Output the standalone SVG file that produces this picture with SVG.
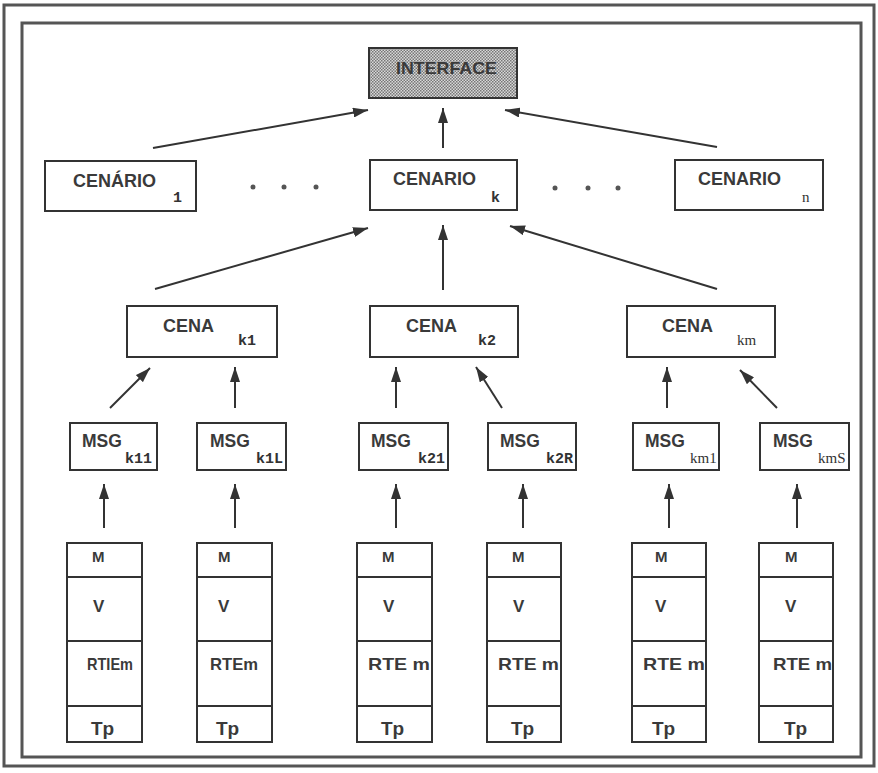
<svg xmlns="http://www.w3.org/2000/svg" width="878" height="773" viewBox="0 0 878 773">
<defs>
<pattern id="stip" width="3" height="3" patternUnits="userSpaceOnUse">
<rect width="3" height="3" fill="#d8d8d8"/>
<rect width="1.5" height="1.5" fill="#777"/>
<rect x="1.5" y="1.5" width="1.5" height="1.5" fill="#777"/>
</pattern>
<marker id="ah" markerUnits="userSpaceOnUse" markerWidth="16" markerHeight="10" refX="15" refY="5" orient="auto">
<path d="M0,0 L15,5 L0,10 z" fill="#333"/>
</marker>
</defs>
<style>
.box{fill:#fff;stroke:#333;stroke-width:2}
.frame{fill:none;stroke:#555;stroke-width:3}
.t{font-family:"Liberation Sans",Arial,sans-serif;font-weight:bold;fill:#3a3a3a}
.s{font-family:"Liberation Mono","Courier New",monospace;font-weight:bold;fill:#333;font-size:15px}
.ss{font-family:"Liberation Serif","Times New Roman",serif;fill:#333;font-size:15px}
.c line{stroke:#333;stroke-width:2;marker-end:url(#ah)}
.dot{fill:#555}
.sep{stroke:#333;stroke-width:2}
</style>
<rect class="frame" x="4" y="5" width="870" height="761"/>
<rect class="frame" x="22" y="23" width="839" height="734"/>

<g class="c" id="connectors">
<line x1="153" y1="148" x2="368" y2="110"/>
<line x1="443" y1="148" x2="443" y2="108"/>
<line x1="717" y1="147" x2="505" y2="110"/>
<line x1="155" y1="289" x2="368" y2="228"/>
<line x1="443" y1="290" x2="443" y2="225"/>
<line x1="717" y1="289" x2="510" y2="226"/>
<line x1="110" y1="408" x2="150" y2="368"/>
<line x1="235" y1="408" x2="235" y2="367"/>
<line x1="396" y1="408" x2="396" y2="367"/>
<line x1="502" y1="408" x2="476" y2="367"/>
<line x1="667" y1="408" x2="667" y2="367"/>
<line x1="777" y1="408" x2="740" y2="370"/>
<line x1="104" y1="528" x2="104" y2="484"/>
<line x1="235" y1="528" x2="235" y2="484"/>
<line x1="396" y1="528" x2="396" y2="484"/>
<line x1="523" y1="528" x2="523" y2="484"/>
<line x1="669" y1="528" x2="669" y2="484"/>
<line x1="797" y1="528" x2="797" y2="484"/>
</g>

<g id="interface">
<rect x="369" y="48" width="148" height="50" fill="url(#stip)" stroke="#333" stroke-width="2"/>
<text class="t" x="396" y="74" font-size="17" textLength="101" lengthAdjust="spacingAndGlyphs">INTERFACE</text>
</g>

<g id="cenario1">
<rect class="box" x="45" y="161" width="151" height="50"/>
<text class="t" x="73" y="187" font-size="18">CENÁRIO</text>
<text class="s" x="173" y="202">1</text>
</g>
<g id="dots1"><circle class="dot" cx="253" cy="187" r="2.5"/><circle class="dot" cx="284" cy="187" r="2.5"/><circle class="dot" cx="316" cy="187" r="2.5"/></g>
<g id="cenariok">
<rect class="box" x="370" y="160" width="147" height="50"/>
<text class="t" x="393" y="185" font-size="18">CENARIO</text>
<text class="s" x="491" y="202">k</text>
</g>
<g id="dots2"><circle class="dot" cx="555" cy="188" r="2.5"/><circle class="dot" cx="588" cy="188" r="2.5"/><circle class="dot" cx="618" cy="188" r="2.5"/></g>
<g id="cenarion">
<rect class="box" x="675" y="160" width="148" height="50"/>
<text class="t" x="698" y="185" font-size="18">CENARIO</text>
<text class="ss" x="802" y="202">n</text>
</g>

<g id="cenak1">
<rect class="box" x="127" y="306" width="150" height="51"/>
<text class="t" x="163" y="332" font-size="18">CENA</text>
<text class="s" x="238" y="345">k1</text>
</g>
<g id="cenak2">
<rect class="box" x="370" y="306" width="148" height="51"/>
<text class="t" x="406" y="332" font-size="18">CENA</text>
<text class="s" x="478" y="345">k2</text>
</g>
<g id="cenakm">
<rect class="box" x="627" y="306" width="148" height="51"/>
<text class="t" x="662" y="332" font-size="18">CENA</text>
<text class="ss" x="737" y="345">km</text>
</g>

<g id="msgk11"><rect class="box" x="70" y="423" width="87" height="47"/><text class="t" x="82" y="447" font-size="17.5">MSG</text><text class="s" x="125" y="463">k11</text></g>
<g id="msgk1L"><rect class="box" x="197" y="423" width="89" height="47"/><text class="t" x="210" y="447" font-size="17.5">MSG</text><text class="s" x="256" y="463">k1L</text></g>
<g id="msgk21"><rect class="box" x="359" y="423" width="89" height="47"/><text class="t" x="371" y="447" font-size="17.5">MSG</text><text class="s" x="418" y="463">k21</text></g>
<g id="msgk2R"><rect class="box" x="488" y="423" width="88" height="47"/><text class="t" x="500" y="447" font-size="17.5">MSG</text><text class="s" x="546" y="463">k2R</text></g>
<g id="msgkm1"><rect class="box" x="633" y="423" width="86" height="47"/><text class="t" x="645" y="447" font-size="17.5">MSG</text><text class="ss" x="690" y="463">km1</text></g>
<g id="msgkmS"><rect class="box" x="760" y="423" width="89" height="47"/><text class="t" x="773" y="447" font-size="17.5">MSG</text><text class="ss" x="818" y="463">kmS</text></g>

<g id="stack1">
<rect class="box" x="67" y="543" width="75" height="199"/>
<line class="sep" x1="67" y1="577" x2="142" y2="577"/>
<line class="sep" x1="67" y1="641" x2="142" y2="641"/>
<line class="sep" x1="67" y1="706" x2="142" y2="706"/>
<text class="t" x="92" y="562" font-size="15">M</text>
<text class="t" x="93" y="612" font-size="17">V</text>
<text class="t" x="87" y="670" font-size="16.5" textLength="46" lengthAdjust="spacingAndGlyphs">RTIEm</text>
<text class="t" x="91" y="735" font-size="19">Tp</text>
</g>
<g id="stack2">
<rect class="box" x="197" y="543" width="75" height="199"/>
<line class="sep" x1="197" y1="577" x2="272" y2="577"/>
<line class="sep" x1="197" y1="641" x2="272" y2="641"/>
<line class="sep" x1="197" y1="706" x2="272" y2="706"/>
<text class="t" x="218" y="562" font-size="15">M</text>
<text class="t" x="218" y="612" font-size="17">V</text>
<text class="t" x="210" y="670" font-size="16.5" textLength="48" lengthAdjust="spacingAndGlyphs">RTEm</text>
<text class="t" x="216" y="735" font-size="19">Tp</text>
</g>
<g id="stack3">
<rect class="box" x="357" y="543" width="75" height="199"/>
<line class="sep" x1="357" y1="577" x2="432" y2="577"/>
<line class="sep" x1="357" y1="641" x2="432" y2="641"/>
<line class="sep" x1="357" y1="706" x2="432" y2="706"/>
<text class="t" x="382" y="562" font-size="15">M</text>
<text class="t" x="383" y="612" font-size="17">V</text>
<text class="t" x="368" y="670" font-size="16.5" textLength="62" lengthAdjust="spacingAndGlyphs">RTE m</text>
<text class="t" x="381" y="735" font-size="19">Tp</text>
</g>
<g id="stack4">
<rect class="box" x="487" y="543" width="74" height="199"/>
<line class="sep" x1="487" y1="577" x2="561" y2="577"/>
<line class="sep" x1="487" y1="641" x2="561" y2="641"/>
<line class="sep" x1="487" y1="706" x2="561" y2="706"/>
<text class="t" x="512" y="562" font-size="15">M</text>
<text class="t" x="513" y="612" font-size="17">V</text>
<text class="t" x="498" y="670" font-size="16.5" textLength="61" lengthAdjust="spacingAndGlyphs">RTE m</text>
<text class="t" x="511" y="735" font-size="19">Tp</text>
</g>
<g id="stack5">
<rect class="box" x="632" y="543" width="74" height="199"/>
<line class="sep" x1="632" y1="577" x2="706" y2="577"/>
<line class="sep" x1="632" y1="641" x2="706" y2="641"/>
<line class="sep" x1="632" y1="706" x2="706" y2="706"/>
<text class="t" x="655" y="562" font-size="15">M</text>
<text class="t" x="655" y="612" font-size="17">V</text>
<text class="t" x="643" y="670" font-size="16.5" textLength="62" lengthAdjust="spacingAndGlyphs">RTE m</text>
<text class="t" x="652" y="735" font-size="19">Tp</text>
</g>
<g id="stack6">
<rect class="box" x="759" y="543" width="74" height="199"/>
<line class="sep" x1="759" y1="577" x2="833" y2="577"/>
<line class="sep" x1="759" y1="641" x2="833" y2="641"/>
<line class="sep" x1="759" y1="706" x2="833" y2="706"/>
<text class="t" x="785" y="562" font-size="15">M</text>
<text class="t" x="785" y="612" font-size="17">V</text>
<text class="t" x="773" y="670" font-size="16.5" textLength="59" lengthAdjust="spacingAndGlyphs">RTE m</text>
<text class="t" x="784" y="735" font-size="19">Tp</text>
</g>
</svg>
